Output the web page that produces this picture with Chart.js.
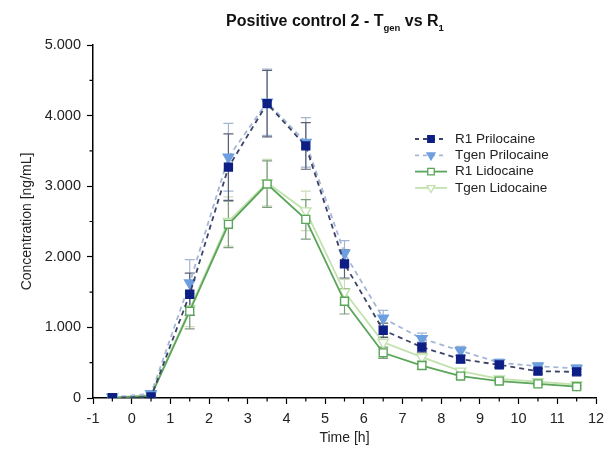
<!DOCTYPE html>
<html lang="en">
<head>
  <meta charset="UTF-8">
  <title>Positive control 2 - Tgen vs R1</title>
  <script src="https://cdn.jsdelivr.net/npm/chart.js"></script>
  <style>
    body { margin: 0; background: #fff; }
    #wrap { width: 615px; height: 452px; position: relative; }
  </style>
</head>
<body>
<div id="wrap"><canvas id="pkChart"></canvas></div>
<script>
  // sampling times [h]
  const times = [-0.5, 0.5, 1.5, 2.5, 3.5, 4.5, 5.5, 6.5, 7.5, 8.5, 9.5, 10.5, 11.5];

  // mean concentrations [ng/mL]
  const r1Prilocaine   = [5, 15, 1470, 3270, 4170, 3570, 1900, 960, 720, 550, 470, 380, 370];
  const tgenPrilocaine = [10, 60, 1630, 3410, 4190, 3620, 2050, 1130, 840, 670, 500, 450, 420];
  const r1Lidocaine    = [5, 30, 1230, 2460, 3030, 2530, 1370, 640, 460, 310, 240, 200, 160];
  const tgenLidocaine  = [10, 40, 1260, 2500, 3050, 2650, 1500, 790, 580, 380, 270, 230, 190];

  // standard deviations (error bars)
  const r1PrilocaineSd   = [10, 20, 300, 470, 470, 330, 200, 100, 70, 50, 40, 40, 40];
  const tgenPrilocaineSd = [10, 30, 330, 480, 470, 350, 180, 110, 80, 60, 50, 50, 50];
  const r1LidocaineSd    = [5, 20, 250, 330, 330, 280, 180, 80, 50, 30, 25, 20, 20];
  const tgenLidocaineSd  = [5, 20, 250, 350, 330, 280, 180, 80, 50, 30, 25, 20, 20];

  const seriesLabels = ['R1 Prilocaine', 'Tgen Prilocaine', 'R1 Lidocaine', 'Tgen Lidocaine'];
  const xTicks = [-1, 0, 1, 2, 3, 4, 5, 6, 7, 8, 9, 10, 11, 12];
  const yTicks = [0, 1000, 2000, 3000, 4000, 5000];

  const toPoints = vals => vals.map((v, i) => ({ x: times[i], y: v }));

  const styles = [
    { line: '#3c4268', dash: [5, 4], pt: 'rect', fill: '#0d1f85', border: '#0d1f85', r: 5.6, rot: 0, err: '#5a5f78' },
    { line: '#a4b7d6', dash: [5, 4], pt: 'triangle', fill: '#6d9fe0', border: '#6d9fe0', r: 6, rot: 180, err: '#a3b5cf' },
    { line: '#5aa55a', dash: [], pt: 'rect', fill: '#ffffff', border: '#5aa55a', r: 5.6, rot: 0, err: '#7f9c7f' },
    { line: '#c2e2ad', dash: [], pt: 'triangle', fill: '#ffffff', border: '#c2e2ad', r: 6, rot: 180, err: '#c9ddb9' }
  ];
  const means = [r1Prilocaine, tgenPrilocaine, r1Lidocaine, tgenLidocaine];
  const sds = [r1PrilocaineSd, tgenPrilocaineSd, r1LidocaineSd, tgenLidocaineSd];

  const datasets = means.map((m, i) => ({
    label: seriesLabels[i],
    data: toPoints(m),
    showLine: true,
    borderColor: styles[i].line,
    borderDash: styles[i].dash,
    borderWidth: 1.8,
    pointStyle: styles[i].pt,
    pointRotation: styles[i].rot,
    pointRadius: styles[i].r,
    pointBackgroundColor: styles[i].fill,
    pointBorderColor: styles[i].border,
    pointBorderWidth: 1.4,
    tension: 0
  }));

  // error bars, drawn under the markers
  const errorBars = {
    id: 'errorBars',
    beforeDatasetsDraw(chart) {
      const { ctx, scales: { x, y } } = chart;
      ctx.save();
      ctx.lineWidth = 1.2;
      for (let i = sds.length - 1; i >= 0; i--) {
        ctx.strokeStyle = styles[i].err;
        sds[i].forEach((sd, j) => {
          const px = x.getPixelForValue(times[j]);
          const top = y.getPixelForValue(means[i][j] + sd);
          const bot = y.getPixelForValue(Math.max(0, means[i][j] - sd));
          ctx.beginPath();
          ctx.moveTo(px, top); ctx.lineTo(px, bot);
          ctx.moveTo(px - 5, top); ctx.lineTo(px + 5, top);
          ctx.moveTo(px - 5, bot); ctx.lineTo(px + 5, bot);
          ctx.stroke();
        });
      }
      ctx.restore();
    }
  };

  // minor ticks, title with subscripts, legend inside the plot
  const decorations = {
    id: 'decorations',
    afterDraw(chart) {
      const { ctx, scales: { x, y } } = chart;
      ctx.save();
      ctx.strokeStyle = '#000';
      ctx.lineWidth = 1.2;
      ctx.beginPath();
      for (let t = -0.5; t < 12; t += 1) {
        const px = x.getPixelForValue(t);
        ctx.moveTo(px, y.bottom); ctx.lineTo(px, y.bottom + 3.5);
      }
      for (let v = 500; v < 5000; v += 1000) {
        const py = y.getPixelForValue(v);
        ctx.moveTo(x.left, py); ctx.lineTo(x.left - 3.5, py);
      }
      ctx.stroke();

      // title
      const big = 'bold 16px "Liberation Sans", Arial, sans-serif';
      const small = 'bold 9.5px "Liberation Sans", Arial, sans-serif';
      const parts = [['Positive control 2 - T', big, 0], ['gen', small, 5], [' vs R', big, 0], ['1', small, 5]];
      let w = 0;
      parts.forEach(p => { ctx.font = p[1]; w += ctx.measureText(p[0]).width; });
      let cx = 335 - w / 2;
      ctx.fillStyle = '#111';
      ctx.textBaseline = 'alphabetic';
      parts.forEach(p => {
        ctx.font = p[1];
        ctx.fillText(p[0], cx, 26 + p[2]);
        cx += ctx.measureText(p[0]).width;
      });

      // legend
      ctx.font = '13.5px "Liberation Sans", Arial, sans-serif';
      ctx.textBaseline = 'middle';
      seriesLabels.forEach((lab, i) => {
        const ly = 139 + i * 16.3;
        const s = styles[i];
        ctx.strokeStyle = s.line;
        ctx.lineWidth = 1.8;
        ctx.setLineDash(s.dash.length ? [4, 4] : []);
        ctx.beginPath();
        ctx.moveTo(415, ly); ctx.lineTo(447, ly);
        ctx.stroke();
        ctx.setLineDash([]);
        ctx.fillStyle = s.fill; ctx.strokeStyle = s.border;
        ctx.lineWidth = 1.3;
        Chart.helpers.drawPoint(ctx, { pointStyle: s.pt, rotation: s.rot, radius: 4.6, borderWidth: 1.3 }, 431, ly);
        ctx.fillStyle = '#222';
        ctx.fillText(lab, 455, ly);
      });
      ctx.restore();
    }
  };

  const tickFont = { family: '"Liberation Sans", Arial, sans-serif', size: 14.5 };

  new Chart(document.getElementById('pkChart'), {
    type: 'scatter',
    data: { datasets },
    options: {
      responsive: true,
      maintainAspectRatio: false,
      animation: false,
      layout: { padding: { top: 45, right: 19, left: 0, bottom: 0 } },
      plugins: { legend: { display: false }, tooltip: { enabled: false } },
      scales: {
        x: {
          type: 'linear', min: -1, max: 12,
          afterBuildTicks: s => { s.ticks = xTicks.map(v => ({ value: v })); },
          afterFit: s => { s.height = 54; },
          grid: { drawOnChartArea: false, tickLength: 6, tickColor: '#000', tickWidth: 1.2 },
          border: { color: '#000', width: 1.5 },
          ticks: { color: '#222', font: tickFont, padding: 6, maxRotation: 0, autoSkip: false },
          title: { display: true, text: 'Time [h]', color: '#222', font: { family: tickFont.family, size: 14 }, padding: { top: 0, bottom: 5 } }
        },
        y: {
          type: 'linear', min: 0, max: 5000,
          afterBuildTicks: s => { s.ticks = yTicks.map(v => ({ value: v })); },
          afterFit: s => { s.width = 93; },
          grid: { drawOnChartArea: false, tickLength: 6, tickColor: '#000', tickWidth: 1.2 },
          border: { color: '#000', width: 1.5 },
          ticks: {
            color: '#222', font: tickFont, padding: 6,
            callback: v => v === 0 ? '0' : (v / 1000).toFixed(3)
          },
          title: { display: true, text: 'Concentration [ng/mL]', color: '#222', font: { family: tickFont.family, size: 14 }, padding: { top: 19, bottom: 0 } }
        }
      }
    },
    plugins: [errorBars, decorations]
  });
</script>
</body>
</html>
